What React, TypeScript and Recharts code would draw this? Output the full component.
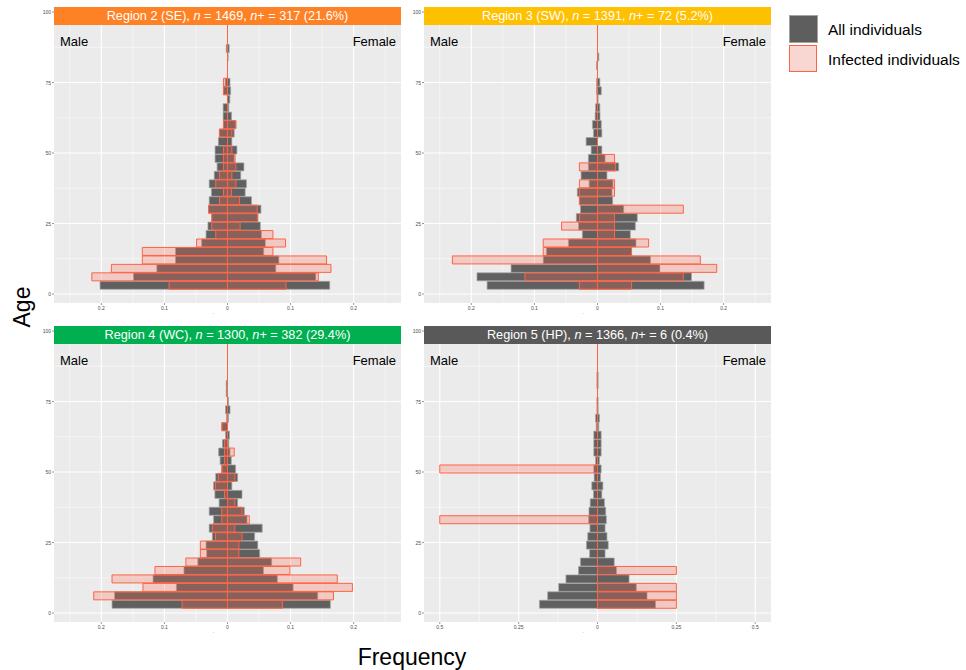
import React from 'react'
import { BarChart, Bar, XAxis, YAxis, CartesianGrid } from 'recharts'

// age bins (centre of each 3-year bin)
const ages = [3, 6, 9, 12, 15, 18, 21, 24, 27, 30, 33, 36, 39, 42, 45, 48, 51, 54, 57, 60, 63, 66, 69, 72, 75, 78, 81, 84, 87]

// Region 2 (SE)
const r2AllMale = [0.202, 0.149, 0.112, 0.0824, 0.0824, 0.041, 0.034, 0.031, 0.025, 0.03, 0.029, 0.0255, 0.029, 0.021, 0.0165, 0.0197, 0.0197, 0.0144, 0.0128, 0.0064, 0.0069, 0.0069, 0, 0.0064, 0.0037, 0, 0, 0, 0.002]
const r2AllFemale = [0.162, 0.14, 0.0766, 0.0814, 0.0574, 0.06, 0.0537, 0.052, 0.048, 0.053, 0.038, 0.028, 0.03, 0.021, 0.026, 0.0106, 0.0149, 0.0069, 0.0106, 0.0133, 0.0064, 0.002, 0.0037, 0.005, 0.004, 0, 0, 0.001, 0.0027]
const r2InfMale = [0.0926, 0.215, 0.184, 0.135, 0.135, 0.049, 0.0186, 0.025, 0.025, 0.03, 0.0128, 0.0064, 0.0186, 0.0128, 0.0064, 0.0064, 0.0064, 0, 0.0128, 0.0064, 0, 0, 0, 0.0064, 0.0064, 0, 0, 0, 0]
const r2InfFemale = [0.0926, 0.144, 0.164, 0.157, 0.072, 0.092, 0.072, 0.02, 0.048, 0.047, 0.019, 0.0064, 0.0133, 0.0069, 0.0133, 0.012, 0.0069, 0, 0.0069, 0.0133, 0, 0, 0, 0, 0, 0, 0, 0, 0]

// Region 3 (SW)
const r3AllMale = [0.175, 0.191, 0.137, 0.086, 0.081, 0.046, 0.024, 0.03, 0.0335, 0.027, 0.0287, 0.032, 0.0133, 0.026, 0.0144, 0.0144, 0.01, 0.018, 0.0064, 0.008, 0.0037, 0.003, 0.001, 0.0016, 0.0016, 0, 0.0016, 0, 0]
const r3AllFemale = [0.169, 0.149, 0.099, 0.084, 0.054, 0.061, 0.052, 0.06, 0.063, 0.0415, 0.024, 0.023, 0.0245, 0.015, 0.0335, 0.012, 0.0069, 0, 0.0069, 0.006, 0.004, 0.0037, 0.001, 0.006, 0.0037, 0, 0, 0.002, 0]
const r3InfMale = [0.0287, 0.115, 0, 0.23, 0.086, 0.086, 0, 0.057, 0.0287, 0, 0.0287, 0.0287, 0.0287, 0, 0.0287, 0, 0, 0, 0, 0, 0, 0, 0, 0, 0, 0, 0, 0, 0]
const r3InfFemale = [0.054, 0.136, 0.189, 0.163, 0.054, 0.081, 0.027, 0.027, 0.027, 0.136, 0, 0.027, 0.027, 0, 0.0287, 0.027, 0, 0, 0, 0, 0, 0, 0, 0, 0, 0, 0, 0, 0]

// Region 4 (WC)
const r4AllMale = [0.183, 0.179, 0.081, 0.118, 0.069, 0.047, 0.033, 0.034, 0.024, 0.029, 0.022, 0.029, 0.0133, 0.02, 0.022, 0.0186, 0.009, 0.0117, 0.014, 0.008, 0.003, 0.009, 0.0016, 0.003, 0, 0.002, 0.002, 0, 0]
const r4AllFemale = [0.163, 0.143, 0.104, 0.079, 0.057, 0.07, 0.051, 0.048, 0.043, 0.055, 0.031, 0.0266, 0.016, 0.023, 0.0069, 0.016, 0.0128, 0.006, 0.004, 0.002, 0.003, 0, 0.0016, 0.004, 0.0016, 0, 0, 0, 0]
const r4InfMale = [0.072, 0.212, 0.134, 0.183, 0.115, 0.066, 0.043, 0.043, 0.019, 0.024, 0.009, 0.009, 0, 0.0048, 0.019, 0.0144, 0.009, 0.0048, 0.0048, 0.0048, 0, 0.009, 0, 0, 0, 0, 0, 0, 0]
const r4InfFemale = [0.087, 0.168, 0.198, 0.174, 0.099, 0.116, 0.018, 0.018, 0.023, 0.0117, 0.0346, 0.023, 0.0117, 0, 0, 0.0117, 0, 0, 0.0106, 0, 0, 0, 0, 0, 0, 0, 0, 0, 0]

// Region 5 (HP)
const r5AllMale = [0.184, 0.158, 0.123, 0.1, 0.06, 0.054, 0.025, 0.035, 0.031, 0.024, 0.028, 0.027, 0.023, 0.0127, 0.018, 0.0105, 0.0116, 0.006, 0.0116, 0.0116, 0.0116, 0.004, 0.006, 0.002, 0.002, 0, 0.002, 0.002, 0]
const r5AllFemale = [0.184, 0.157, 0.123, 0.1, 0.06, 0.053, 0.024, 0.034, 0.03, 0.024, 0.028, 0.026, 0.022, 0.0137, 0.017, 0.0095, 0.0116, 0.006, 0.0116, 0.0116, 0.0116, 0.004, 0.006, 0.002, 0.002, 0, 0.002, 0.002, 0]
const r5InfMale = [0, 0, 0, 0, 0, 0, 0, 0, 0, 0, 0.5, 0, 0, 0, 0, 0, 0.5, 0, 0, 0, 0, 0, 0, 0, 0, 0, 0, 0, 0]
const r5InfFemale = [0.25, 0.25, 0.25, 0, 0.25, 0, 0, 0, 0, 0, 0, 0, 0, 0, 0, 0, 0, 0, 0, 0, 0, 0, 0, 0, 0, 0, 0, 0, 0]

// axis ticks
const yTicks = [0, 25, 50, 75, 100]
const yMinor = [12.5, 37.5, 62.5, 87.5]
const smallTicks = [-0.2, -0.1, 0, 0.1, 0.2]
const smallMinor = [-0.25, -0.15, -0.05, 0.05, 0.15, 0.25]
const wideTicks = [-0.5, -0.25, 0, 0.25, 0.5]
const wideMinor = [-0.375, -0.125, 0.125, 0.375]

const FONT = '"Liberation Sans", Arial, Helvetica, sans-serif'
const PLOT_W = 347
const PLOT_H = 296
const Y_DOMAIN: [number, number] = [-3.2, 101.8]
const ZERO_LINE_FROM = 1.4 // age where the centre line starts (bottom edge of the first bin)
const TOMATO = '#FF6347'

// empty bins get no bar at all (a zero-width rect would still draw its outline)
const male = (v: number) => (v ? -v : null)
const female = (v: number) => (v ? v : null)

// y tick: label + short tick mark just left of the panel
const AgeTick = (props: any) => {
  const { y, payload } = props
  return (
    <g>
      <line x1={28} x2={30} y1={y} y2={y} stroke="#333333" strokeWidth={0.5} />
      <text x={27} y={y} textAnchor="end" dominantBaseline="central" fontSize={5} fill="#4d4d4d" fontFamily={FONT}>
        {payload.value}
      </text>
    </g>
  )
}

interface PanelProps {
  left: number
  top: number
  title: React.ReactNode
  stripColor: string
  allMale: number[]
  allFemale: number[]
  infMale: number[]
  infFemale: number[]
  xDomain: [number, number]
  xTicks: number[]
  xMinor: number[]
}

function Panel({ left, top, title, stripColor, allMale, allFemale, infMale, infFemale, xDomain, xTicks, xMinor }: PanelProps) {
  const data = ages.map((age, i) => ({
    age,
    allM: male(allMale[i]),
    allF: female(allFemale[i]),
    infM: male(infMale[i]),
    infF: female(infFemale[i]),
  }))

  const hiddenY = (id: string) => (
    <YAxis yAxisId={id} type="number" dataKey="age" domain={Y_DOMAIN} allowDataOverflow reversed hide />
  )

  // centre (x = 0) line, placed from the same linear mapping the axes use
  const zeroX = Math.round(30 + (PLOT_W * (0 - xDomain[0])) / (xDomain[1] - xDomain[0]) - 0.5) + 0.5
  const zeroBottom = 7 + (PLOT_H * (Y_DOMAIN[1] - ZERO_LINE_FROM)) / (Y_DOMAIN[1] - Y_DOMAIN[0])

  return (
    <div style={{ position: 'absolute', left: left - 30, top: top - 7, width: 382, height: 323 }}>
      <BarChart
        width={382}
        height={323}
        data={data}
        layout="vertical"
        margin={{ top: 7, right: 5, left: 16, bottom: 8 }}
        barCategoryGap={0}
        barGap={0}
      >
        <CartesianGrid yAxisId="allM" fill="#EBEBEB" fillOpacity={1} stroke="#ffffff" strokeWidth={0.5}
          horizontalValues={yMinor} verticalValues={xMinor} />
        <CartesianGrid yAxisId="allM" stroke="#ffffff" strokeWidth={1.1}
          horizontalValues={yTicks} verticalValues={xTicks} />
        <XAxis
          type="number"
          domain={xDomain}
          allowDataOverflow
          ticks={xTicks}
          interval={0}
          tickFormatter={v => String(Math.abs(v))}
          tick={{ fontSize: 5, fill: '#4d4d4d', fontFamily: FONT }}
          tickLine={{ stroke: '#333333', strokeWidth: 0.5 }}
          tickSize={2}
          tickMargin={1}
          axisLine={false}
          height={12}
        />
        <YAxis
          yAxisId="allM"
          type="number"
          dataKey="age"
          domain={Y_DOMAIN}
          allowDataOverflow
          reversed
          ticks={yTicks}
          interval={0}
          tick={<AgeTick />}
          tickLine={false}
          axisLine={false}
          width={14}
        />
        {hiddenY('allF')}
        {hiddenY('infM')}
        {hiddenY('infF')}
        <Bar yAxisId="allM" dataKey="allM" fill="#606060" stroke="#a3a3a3" strokeWidth={0.7} isAnimationActive={false} />
        <Bar yAxisId="allF" dataKey="allF" fill="#606060" stroke="#a3a3a3" strokeWidth={0.7} isAnimationActive={false} />
        <Bar yAxisId="infM" dataKey="infM" fill={TOMATO} fillOpacity={0.25} stroke={TOMATO} strokeWidth={1} isAnimationActive={false} />
        <Bar yAxisId="infF" dataKey="infF" fill={TOMATO} fillOpacity={0.25} stroke={TOMATO} strokeWidth={1} isAnimationActive={false} />
      </BarChart>

      <svg width={382} height={323} style={{ position: 'absolute', left: 0, top: 0, zIndex: 1, pointerEvents: 'none' }}>
        <line x1={zeroX} x2={zeroX} y1={7} y2={zeroBottom} stroke={TOMATO} strokeWidth={1.2} shapeRendering="crispEdges" />
      </svg>

      {/* facet strip, drawn over the top of the panel */}
      <div style={{
        position: 'absolute', left: 30, top: 7, width: PLOT_W, height: 18, background: stripColor, zIndex: 2,
        color: '#ffffff', fontFamily: FONT, fontSize: 12.7, display: 'flex', alignItems: 'center',
        justifyContent: 'center', whiteSpace: 'nowrap',
      }}>
        {title}
      </div>
      <div style={{ position: 'absolute', left: 36, top: 35, zIndex: 2, fontFamily: FONT, fontSize: 13, lineHeight: '13px', color: '#000' }}>Male</div>
      <div style={{ position: 'absolute', left: 30, top: 35, zIndex: 2, width: PLOT_W - 5, textAlign: 'right', fontFamily: FONT, fontSize: 13, lineHeight: '13px', color: '#000' }}>Female</div>
      <div style={{ position: 'absolute', left: 30 + PLOT_W / 2 - 15, top: 7 + PLOT_H + 7, fontFamily: FONT, fontSize: 6, color: '#bdbdbd' }}>-</div>
    </div>
  )
}

export default function App() {
  return (
    <div style={{ position: 'absolute', left: 0, top: 0, width: 966, height: 670, background: '#ffffff', fontFamily: FONT }}>
      <Panel left={54} top={7} stripColor="#FF8125"
        title={<span>Region 2 (SE), <i>n</i> = 1469, <i>n</i>+ = 317 (21.6%)</span>}
        allMale={r2AllMale} allFemale={r2AllFemale} infMale={r2InfMale} infFemale={r2InfFemale}
        xDomain={[-0.275, 0.275]} xTicks={smallTicks} xMinor={smallMinor} />
      <Panel left={424} top={7} stripColor="#FFC000"
        title={<span>Region 3 (SW), <i>n</i> = 1391, <i>n</i>+ = 72 (5.2%)</span>}
        allMale={r3AllMale} allFemale={r3AllFemale} infMale={r3InfMale} infFemale={r3InfFemale}
        xDomain={[-0.275, 0.275]} xTicks={smallTicks} xMinor={smallMinor} />
      <Panel left={54} top={326} stripColor="#00B050"
        title={<span>Region 4 (WC), <i>n</i> = 1300, <i>n</i>+ = 382 (29.4%)</span>}
        allMale={r4AllMale} allFemale={r4AllFemale} infMale={r4InfMale} infFemale={r4InfFemale}
        xDomain={[-0.275, 0.275]} xTicks={smallTicks} xMinor={smallMinor} />
      <Panel left={424} top={326} stripColor="#595959"
        title={<span>Region 5 (HP), <i>n</i> = 1366, <i>n</i>+ = 6 (0.4%)</span>}
        allMale={r5AllMale} allFemale={r5AllFemale} infMale={r5InfMale} infFemale={r5InfFemale}
        xDomain={[-0.55, 0.55]} xTicks={wideTicks} xMinor={wideMinor} />

      {/* axis titles */}
      <div style={{ position: 'absolute', left: 22, top: 307, transform: 'translate(-50%, -50%) rotate(-90deg)', fontSize: 23, color: '#000', whiteSpace: 'nowrap' }}>Age</div>
      <div style={{ position: 'absolute', left: 412, top: 657, transform: 'translate(-50%, -50%)', fontSize: 23, color: '#000', whiteSpace: 'nowrap' }}>Frequency</div>

      {/* legend */}
      <div style={{ position: 'absolute', left: 789, top: 15, width: 27, height: 26, background: '#5e5e5e', border: '1px solid #a3a3a3' }} />
      <div style={{ position: 'absolute', left: 789, top: 45, width: 26, height: 25, background: '#F8D6D2', border: `1.5px solid ${TOMATO}` }} />
      <div style={{ position: 'absolute', left: 828, top: 21, fontSize: 15.5, lineHeight: '18px', color: '#000' }}>All individuals</div>
      <div style={{ position: 'absolute', left: 828, top: 51, fontSize: 15.5, lineHeight: '18px', color: '#000' }}>Infected individuals</div>
    </div>
  )
}
